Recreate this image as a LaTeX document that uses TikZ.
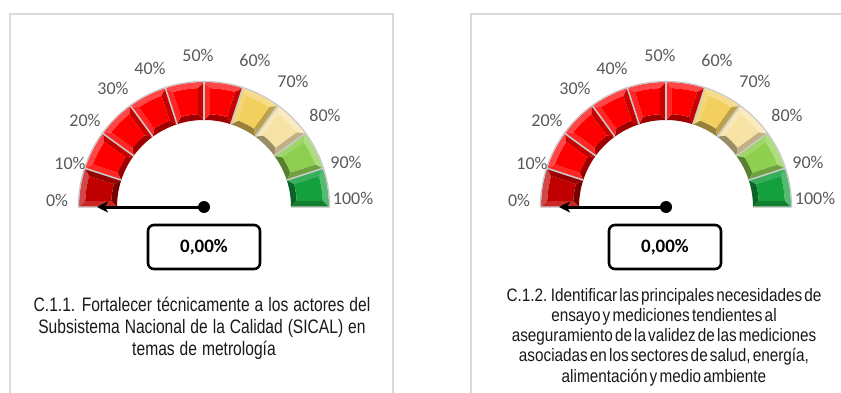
\documentclass[tikz,border=0pt]{standalone}
\usepackage{fontspec}
\setmainfont{Liberation Sans}
\newfontfamily\lblfont{Carlito}
\newfontfamily\capLfont[FakeStretch=0.8,WordSpace=1.15]{Liberation Sans}
\newfontfamily\capRfont[FakeStretch=0.85,WordSpace=0.5]{Liberation Sans}
\usetikzlibrary{arrows.meta}
\definecolor{frameC}{HTML}{D9D9D9}
\definecolor{lblC}{HTML}{595959}
\definecolor{segDR}{HTML}{C00000}
\definecolor{segR}{HTML}{FF0000}
\definecolor{segGold}{HTML}{F2CF5E}
\definecolor{segCream}{HTML}{F7E2A6}
\definecolor{segLG}{HTML}{8FCF4F}
\definecolor{segG}{HTML}{14A03C}
\definecolor{sepC}{HTML}{C8C8C8}
\tikzset{
  pct/.style={font=\lblfont\fontsize{18}{18}\selectfont, text=lblC, inner sep=0pt},
  valbox/.style={draw=black, line width=2.6pt, rounded corners=6pt, minimum width=112pt,
    minimum height=44pt, font=\lblfont\bfseries\fontsize{19}{19}\selectfont, inner sep=0pt},
  needle/.style={line width=3pt, -{Stealth[length=11pt,width=11pt,inset=3pt]}},
  hub/.style={circle, fill=black, inner sep=0pt, minimum size=12pt},
  panel/.style={draw=frameC, line width=2pt},
  capL/.style={font=\capLfont\fontsize{19.5}{22}\selectfont, text=black!90, anchor=base, inner sep=0pt},
  capR/.style={font=\capRfont\fontsize{18}{20}\selectfont, text=black!90, anchor=base, inner sep=0pt},
}
\newcommand\mygauge[1]{%
  \foreach \k/\segcol in {0/segDR,1/segR,2/segR,3/segR,4/segR,5/segR,6/segGold,7/segCream,8/segLG,9/segG}{%
    \pgfmathsetmacro\aA{180-18*\k}%
    \pgfmathsetmacro\aB{162-18*\k}%
    \pgfmathsetmacro\aAo{\aA-2.9}\pgfmathsetmacro\aBo{\aB+2.9}%
    \pgfmathsetmacro\aAi{\aA-3.7}\pgfmathsetmacro\aBi{\aB+3.7}%
    \fill[\segcol!72!white] (\aA:125) arc[start angle=\aA,end angle=\aB,radius=125]
      -- (\aBo:119) arc[start angle=\aBo,end angle=\aAo,radius=119] -- cycle;
    \fill[\segcol!62!black] (\aA:87) arc[start angle=\aA,end angle=\aB,radius=87]
      -- (\aBi:93) arc[start angle=\aBi,end angle=\aAi,radius=93] -- cycle;
    \fill[\segcol!85!white] (\aA:125) -- (\aAo:119) -- (\aAi:93) -- (\aA:87) -- cycle;
    \fill[\segcol!78!black] (\aB:125) -- (\aBo:119) -- (\aBi:93) -- (\aB:87) -- cycle;
    \fill[\segcol] (\aAo:119) arc[start angle=\aAo,end angle=\aBo,radius=119]
      -- (\aBi:93) arc[start angle=\aBi,end angle=\aAi,radius=93] -- cycle;
  }
  \foreach \a in {18,36,...,162}{\draw[sepC, line width=1.6pt] (\a:87) -- (\a:125);}
  \draw[sepC, line width=1.2pt] (180:87) -- (180:125.6)
    arc[start angle=180,end angle=0,radius=125.6] -- (0:87);
  \foreach \p/\dx/\dy in {0/-147/7,10/-134/44,20/-119/87,30/-91/119,40/-54/139,
      50/-6/152,60/51/147,70/89/126,80/121/92,90/142/45,100/149/9}{%
    \node[pct] (#1lab\p) at (\dx,\dy) {\p\%};
  }
  \coordinate (#1tip) at (-107,0);
  \node[hub] (#1hub) at (0,0) {};
  \draw[needle] (#1hub.center) -- (#1tip);
}
\begin{document}
\begin{tikzpicture}[x=1pt,y=1pt]
  \useasboundingbox (0,0) rectangle (841,392);
  \clip (0,0) rectangle (841,392);
  \fill[white] (0,0) rectangle (841,392);
  % panels
  \draw[panel] (9.5,-10) -- (9.5,378) -- (393,378) -- (393,-10);
  \draw[panel] (471,-10) -- (471,378) -- (850,378);
  % left gauge
  \begin{scope}[shift={(204,185)}]
    \mygauge{L}
  \end{scope}
  \node[valbox] (Lval) at (204,145) {0,00\%};
  \node[capL] (Lcap1) at (202,81) {C.1.1. Fortalecer técnicamente a los actores del};
  \node[capL] (Lcap2) at (202,59) {Subsistema Nacional de la Calidad (SICAL) en};
  \node[capL] (Lcap3) at (204,37) {temas de metrología};
  % right gauge
  \begin{scope}[shift={(666,185)}]
    \mygauge{R}
  \end{scope}
  \node[valbox] (Rval) at (665,145) {0,00\%};
  \node[capR] (Rcap1) at (664,91) {C.1.2. Identificar las principales necesidades de};
  \node[capR] (Rcap2) at (664,71) {ensayo y mediciones tendientes al};
  \node[capR] (Rcap3) at (664,51) {aseguramiento de la validez de las mediciones};
  \node[capR] (Rcap4) at (664,31) {asociadas en los sectores de salud, energía,};
  \node[capR] (Rcap5) at (664,10) {alimentación y medio ambiente};
\end{tikzpicture}
\end{document}
